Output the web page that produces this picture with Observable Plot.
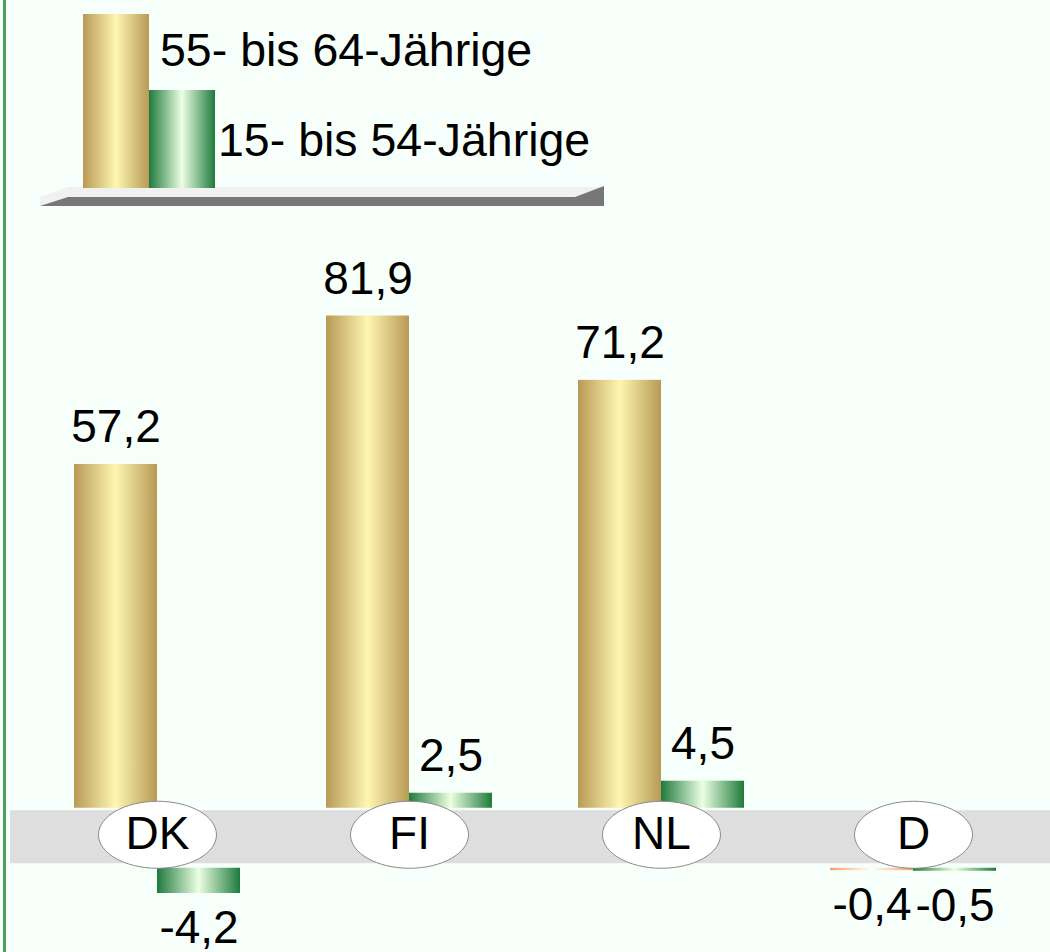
<!DOCTYPE html>
<html>
<head>
<meta charset="utf-8">
<script src="https://cdn.jsdelivr.net/npm/d3@7"></script>
<script src="https://cdn.jsdelivr.net/npm/@observablehq/plot@0.6"></script>
<style>
  html, body { margin: 0; padding: 0; background: #f6fff9; }
  #wrap { position: relative; width: 1050px; height: 952px; overflow: hidden; background: #f6fff9; }
  #border { position: absolute; left: 3px; top: 0; width: 3px; height: 952px; background: #4f9d60; }
  #chart, #legend { position: absolute; left: 0; top: 0; }
  text { font-family: "Liberation Sans", Arial, sans-serif; }
</style>
</head>
<body>
<div id="wrap">
  <div id="chart"></div>
  <div id="legend"></div>
  <div id="border"></div>
</div>
<script>
// ---- data ----
const countries = ["DK", "FI", "NL", "D"];
const seriesNames = ["55- bis 64-Jährige", "15- bis 54-Jährige"];
const older = [57.2, 81.9, 71.2, -0.4];    // 55- bis 64-Jährige
const younger = [-4.2, 2.5, 4.5, -0.5];    // 15- bis 54-Jährige
const highlight = ["D"];

const fmt = v => String(v).replace(".", ",");
const rowsOld = countries.map((c, i) => ({country: c, value: older[i]}));
const rowsYoung = countries.map((c, i) => ({country: c, value: younger[i]}));

// ---- ellipse symbol ----
const ellipse = {
  draw(ctx) {
    const rx = 59, ry = 33.5, kx = rx * 0.5523, ky = ry * 0.5523;
    ctx.moveTo(rx, 0);
    ctx.bezierCurveTo(rx, ky, kx, ry, 0, ry);
    ctx.bezierCurveTo(-kx, ry, -rx, ky, -rx, 0);
    ctx.bezierCurveTo(-rx, -ky, -kx, -ry, 0, -ry);
    ctx.bezierCurveTo(kx, -ry, rx, -ky, rx, 0);
    ctx.closePath();
  }
};

const NEG = 60; // gap below the baseline band for negative bars
const FS = 46;
const font = "Liberation Sans, Arial, sans-serif";
const pos = d => d.value >= 0, neg = d => d.value < 0;

const plot = Plot.plot({
  width: 1050,
  height: 952,
  margin: 0,
  style: {background: "transparent", fontFamily: font, fontSize: FS + "px", color: "black"},
  x: {type: "band", domain: countries, range: [31, 1039], padding: 0, axis: null},
  y: {domain: [-24, 134.4], range: [952, 0], axis: null},
  marks: [
    Plot.ruleY([0], {stroke: "#dedede", strokeWidth: 53, dy: 28.5, insetLeft: 10}),
    // older
    Plot.barY(rowsOld, {filter: d => pos(d) && !highlight.includes(d.country), x: "country", y1: 0, y2: "value",
      fill: "url(#gGold)", insetLeft: 43, insetRight: 126}),
    Plot.barY(rowsOld, {filter: d => neg(d) && !highlight.includes(d.country), x: "country", y1: 0, y2: "value",
      fill: "url(#gGold)", insetLeft: 43, insetRight: 126, dy: NEG}),
    Plot.barY(rowsOld, {filter: d => neg(d) && highlight.includes(d.country), x: "country", y1: 0, y2: "value",
      fill: "url(#gOrange)", insetLeft: 43, insetRight: 126, dy: NEG}),
    Plot.barY(rowsOld, {filter: d => pos(d) && highlight.includes(d.country), x: "country", y1: 0, y2: "value",
      fill: "url(#gOrange)", insetLeft: 43, insetRight: 126}),
    // younger
    Plot.barY(rowsYoung, {filter: pos, x: "country", y1: 0, y2: "value",
      fill: "url(#gGreen)", insetLeft: 126, insetRight: 43}),
    Plot.barY(rowsYoung, {filter: neg, x: "country", y1: 0, y2: "value",
      fill: "url(#gGreen)", insetLeft: 126, insetRight: 43, dy: NEG}),
    // country ellipses
    Plot.dot(countries, {x: d => d, y: () => 0, symbol: ellipse, fill: "white", stroke: "#8a8a8a", strokeWidth: 1, dy: 26.5}),
    Plot.text(countries, {x: d => d, y: () => 0, text: d => d, fontSize: FS, lineAnchor: "middle", dy: 26, fill: "black"}),
    // value labels
    Plot.text(rowsOld, {filter: pos, x: "country", y: "value", text: d => fmt(d.value), fontSize: FS,
      lineAnchor: "bottom", dx: -41.5, dy: -22, fill: "black"}),
    Plot.text(rowsOld, {filter: neg, x: "country", y: "value", text: d => fmt(d.value), fontSize: FS,
      lineAnchor: "top", dx: -41.5, dy: NEG + 17, fill: "black"}),
    Plot.text(rowsYoung, {filter: pos, x: "country", y: "value", text: d => fmt(d.value), fontSize: FS,
      lineAnchor: "bottom", dx: 41.5, dy: -22, fill: "black"}),
    Plot.text(rowsYoung, {filter: neg, x: "country", y: "value", text: d => fmt(d.value), fontSize: FS,
      lineAnchor: "top", dx: 41.5, dy: NEG + 17, fill: "black"})
  ]
});

// gradients
function addGradients(svgSel) {
  const defs = svgSel.insert("defs", ":first-child");
  const grads = {
    gGold: ["#b79a55", "#fff6b2", "#b79a55"],
    gGreen: ["#1f7a3c", "#ebffe3", "#1f7a3c"],
    gOrange: ["#f4a05e", "#ffffff", "#f4a05e"]
  };
  for (const [id, [a, b, c]] of Object.entries(grads)) {
    const g = defs.append("linearGradient").attr("id", id).attr("x1", "0").attr("x2", "1").attr("y1", "0").attr("y2", "0");
    g.append("stop").attr("offset", "0%").attr("stop-color", a);
    g.append("stop").attr("offset", "50%").attr("stop-color", b);
    g.append("stop").attr("offset", "100%").attr("stop-color", c);
  }
}
addGradients(d3.select(plot));
document.getElementById("chart").appendChild(plot);

// ---- legend (decorative overlay) ----
const lg = d3.select("#legend").append("svg").attr("width", 640).attr("height", 220);
lg.append("polygon").attr("points", "40,206 40,197 68,187 604,187 604,206").attr("fill", "#f1f1f1");
lg.append("polygon").attr("points", "40,206 68,197 575,197 604,186 604,206").attr("fill", "#777777");
lg.append("rect").attr("x", 83).attr("y", 14).attr("width", 66).attr("height", 174).attr("fill", "url(#gGold)");
lg.append("rect").attr("x", 149).attr("y", 90).attr("width", 66).attr("height", 98).attr("fill", "url(#gGreen)");
lg.append("text").attr("x", 160).attr("y", 66).attr("font-size", 46.5).attr("fill", "black").text(seriesNames[0]);
lg.append("text").attr("x", 218).attr("y", 156).attr("font-size", 46.5).attr("fill", "black").text(seriesNames[1]);
addGradients(lg);
</script>
</body>
</html>
